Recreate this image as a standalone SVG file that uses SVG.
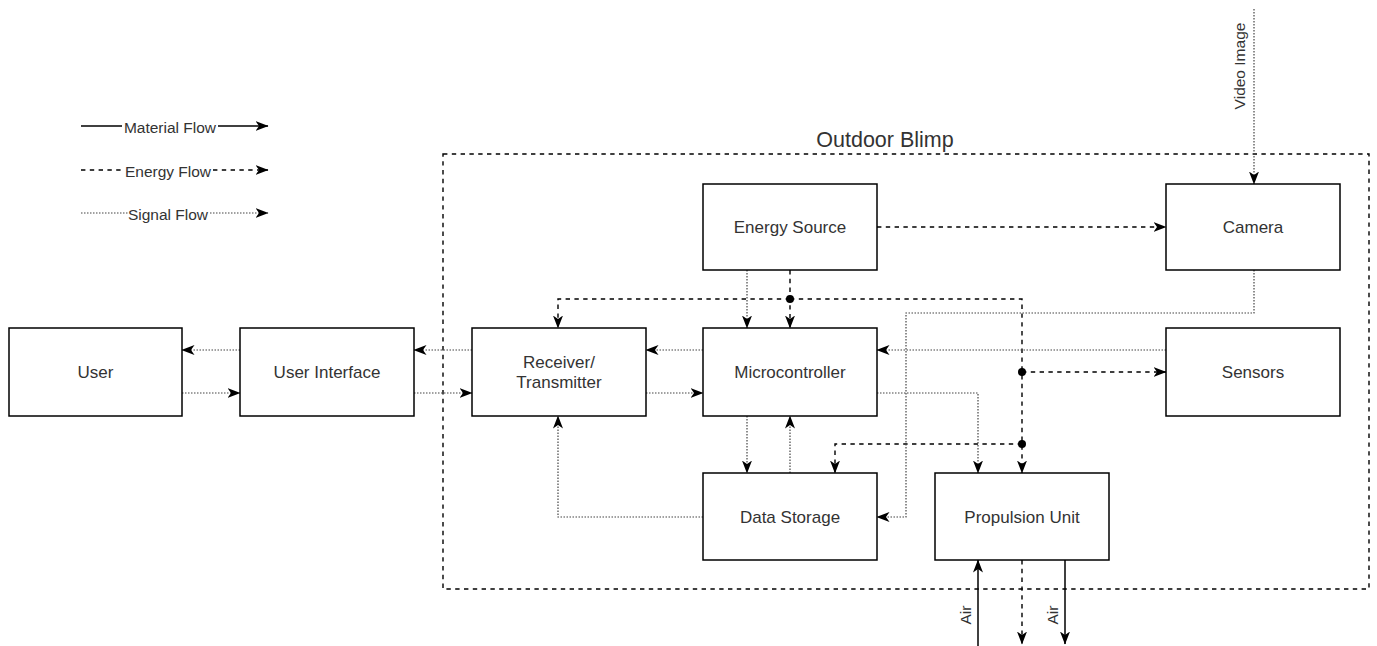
<svg xmlns="http://www.w3.org/2000/svg" width="1377" height="646" viewBox="0 0 1377 646">
<defs>
<style>
.box{fill:#fff;stroke:#000;stroke-width:1.5}
.lbl{font-family:"Liberation Sans",Arial,sans-serif;font-size:17px;fill:#333;text-anchor:middle;dominant-baseline:central}
.sm{font-family:"Liberation Sans",Arial,sans-serif;font-size:15.5px;fill:#333;text-anchor:middle;dominant-baseline:central}
.mat{fill:none;stroke:#000;stroke-width:1.5}
.en{fill:none;stroke:#000;stroke-width:1.4;stroke-dasharray:4.4 4.4}
.sig{fill:none;stroke:#444;stroke-width:1.2;stroke-dasharray:1.5 1.5}
.dot{fill:#000}
</style>
<marker id="ah" viewBox="0 0 13 10" refX="12.5" refY="5" markerWidth="13" markerHeight="10" markerUnits="userSpaceOnUse" orient="auto">
<path d="M0,0 L13,5 L0,10 L3.5,5 Z" fill="#000" stroke="none"/>
</marker>
</defs>
<rect width="1377" height="646" fill="#fff"/>

<g id="legend">
<line class="mat" x1="81" y1="126" x2="268" y2="126" marker-end="url(#ah)"/>
<rect x="122" y="117" width="96" height="18" fill="#fff"/>
<text class="sm" x="170" y="127">Material Flow</text>
<line class="en" x1="81" y1="170" x2="268" y2="170" marker-end="url(#ah)"/>
<rect x="124" y="161" width="89" height="18" fill="#fff"/>
<text class="sm" x="168" y="171">Energy Flow</text>
<line class="sig" x1="81" y1="213" x2="268" y2="213" marker-end="url(#ah)"/>
<rect x="128" y="204" width="81" height="18" fill="#fff"/>
<text class="sm" x="168" y="214">Signal Flow</text>
</g>

<g id="outdoor-blimp">
<rect x="443" y="154" width="926" height="435" fill="none" stroke="#000" stroke-width="1.4" stroke-dasharray="4.4 4.4"/>
<text x="885" y="147" font-family="Liberation Sans, Arial, sans-serif" font-size="21.5" fill="#333" text-anchor="middle">Outdoor Blimp</text>
</g>

<g id="connectors">
<line class="en" x1="877" y1="227" x2="1166" y2="227" marker-end="url(#ah)"/>
<line class="sig" x1="1254" y1="9" x2="1254" y2="184" marker-end="url(#ah)"/>
<line class="en" x1="790" y1="270" x2="790" y2="328" marker-end="url(#ah)"/>
<line class="sig" x1="747" y1="270" x2="747" y2="328" marker-end="url(#ah)"/>
<polyline class="en" points="790,299 558,299 558,328" marker-end="url(#ah)"/>
<polyline class="en" points="790,299 1022,299 1022,473" marker-end="url(#ah)"/>
<line class="en" x1="1022" y1="372" x2="1166" y2="372" marker-end="url(#ah)"/>
<polyline class="en" points="1022,444 835,444 835,473" marker-end="url(#ah)"/>
<polyline class="sig" points="1254,270 1254,313 906,313 906,517 877,517" marker-end="url(#ah)"/>
<line class="sig" x1="1166" y1="350" x2="877" y2="350" marker-end="url(#ah)"/>
<polyline class="sig" points="877,393 978,393 978,473" marker-end="url(#ah)"/>
<line class="sig" x1="703" y1="350" x2="646" y2="350" marker-end="url(#ah)"/>
<line class="sig" x1="646" y1="393" x2="703" y2="393" marker-end="url(#ah)"/>
<line class="sig" x1="472" y1="350" x2="414" y2="350" marker-end="url(#ah)"/>
<line class="sig" x1="414" y1="393" x2="472" y2="393" marker-end="url(#ah)"/>
<line class="sig" x1="240" y1="350" x2="182" y2="350" marker-end="url(#ah)"/>
<line class="sig" x1="182" y1="393" x2="240" y2="393" marker-end="url(#ah)"/>
<line class="sig" x1="747" y1="416" x2="747" y2="473" marker-end="url(#ah)"/>
<line class="sig" x1="790" y1="473" x2="790" y2="416" marker-end="url(#ah)"/>
<polyline class="sig" points="703,517 558,517 558,416" marker-end="url(#ah)"/>
<line class="mat" x1="978" y1="646" x2="978" y2="560" marker-end="url(#ah)"/>
<line class="en" x1="1022" y1="560" x2="1022" y2="644" marker-end="url(#ah)"/>
<line class="mat" x1="1065" y1="560" x2="1065" y2="644" marker-end="url(#ah)"/>
<circle class="dot" cx="790" cy="299" r="4"/>
<circle class="dot" cx="1022" cy="372" r="4"/>
<circle class="dot" cx="1022" cy="444" r="4"/>
<text class="sm" transform="translate(1239,66) rotate(-90)">Video Image</text>
<text class="sm" transform="translate(965,615) rotate(-90)">Air</text>
<text class="sm" transform="translate(1052,615) rotate(-90)">Air</text>
</g>

<g id="user"><rect class="box" x="9" y="328" width="173" height="88"/><text class="lbl" x="95.5" y="372">User</text></g>
<g id="user-interface"><rect class="box" x="240" y="328" width="174" height="88"/><text class="lbl" x="327" y="372">User Interface</text></g>
<g id="receiver-transmitter"><rect class="box" x="472" y="328" width="174" height="88"/><text class="lbl" x="559" y="362">Receiver/</text><text class="lbl" x="559" y="382">Transmitter</text></g>
<g id="microcontroller"><rect class="box" x="703" y="328" width="174" height="88"/><text class="lbl" x="790" y="372">Microcontroller</text></g>
<g id="energy-source"><rect class="box" x="703" y="184" width="174" height="86"/><text class="lbl" x="790" y="227">Energy Source</text></g>
<g id="camera"><rect class="box" x="1166" y="184" width="174" height="86"/><text class="lbl" x="1253" y="227">Camera</text></g>
<g id="sensors"><rect class="box" x="1166" y="328" width="174" height="88"/><text class="lbl" x="1253" y="372">Sensors</text></g>
<g id="data-storage"><rect class="box" x="703" y="473" width="174" height="87"/><text class="lbl" x="790" y="517">Data Storage</text></g>
<g id="propulsion-unit"><rect class="box" x="935" y="473" width="174" height="87"/><text class="lbl" x="1022" y="517">Propulsion Unit</text></g>
</svg>
